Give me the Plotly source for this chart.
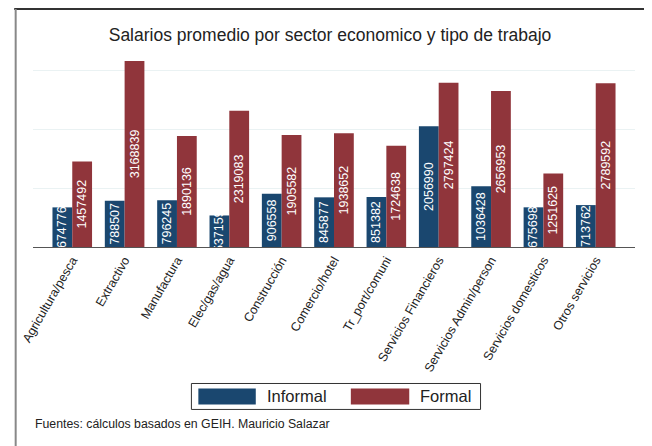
import plotly.graph_objects as go

sectores = ["Agricultura/pesca", "Extractivo", "Manufactura", "Elec/gas/agua",
            "Construcción", "Comercio/hotel", "Tr_port/comuni", "Servicios Financieros",
            "Servicios Admin/person", "Servicios domesticos", "Otros servicios"]
informal = [674776, 788507, 796245, 537159, 906558, 845877, 851382, 2056990,
            1036428, 675698, 713762]
formal = [1457492, 3168839, 1890136, 2319083, 1905582, 1938652, 1724638, 2797424,
          2656953, 1251625, 2789592]

AZUL = "#1a476f"
ROJO = "#90353b"
FONT = "Liberation Sans, Arial, sans-serif"

OFF = 8  # page body margin
W, H = 652 - OFF, 446 - OFF
L, R = 27 - OFF, 635 - OFF
T, B = 55 - OFF, 247.3 - OFF
PW, PH = R - L, B - T

def px(xv):
    return (xv - OFF - L) / PW

def py(yv):
    return (B - (yv - OFF)) / PH

fig = go.Figure()
for name, vals, col in [("Informal", informal, AZUL), ("Formal", formal, ROJO)]:
    fig.add_trace(go.Bar(
        x=sectores, y=vals, name=name, marker_color=col,
        marker_line_width=0,
        text=[str(v) for v in vals], textposition="inside",
        insidetextanchor="middle", textangle=-90,
        textfont=dict(color="white", size=12.5, family=FONT),
        constraintext="none", cliponaxis=True, showlegend=False,
    ))

fig.update_layout(
    width=W, height=H,
    margin=dict(l=L, r=W - R, t=T, b=H - B),
    paper_bgcolor="white", plot_bgcolor="white",
    barmode="group", bargap=0.244, bargroupgap=0,
    uniformtext=dict(minsize=12.5, mode="show"),
    font=dict(family=FONT, color="#222"),
    title=dict(text="Salarios promedio por sector economico y tipo de trabajo",
               x=0.5, xanchor="center", y=1 - (35 - OFF) / H, yanchor="middle",
               font=dict(size=17.5, color="#222", family=FONT)),
    xaxis=dict(range=[-0.75, 10.75], tickangle=-60, ticks="", showline=True,
               linecolor="#555", linewidth=1, tickfont=dict(size=12.5, color="#222")),
    yaxis=dict(range=[0, 3270000], dtick=1000000, showticklabels=False,
               showgrid=True, gridcolor="#eaf2f3", gridwidth=1, zeroline=False,
               showline=False, ticks=""),
)

# outer frame (top and left edge of the graph region)
fig.add_shape(type="line", xref="paper", yref="paper", x0=px(8), x1=px(660),
              y0=py(9), y1=py(9), line=dict(color="#333", width=2))
fig.add_shape(type="line", xref="paper", yref="paper", x0=px(9.5), x1=px(9.5),
              y0=py(460), y1=py(9), line=dict(color="#888", width=2))

# manual legend
fig.add_shape(type="rect", xref="paper", yref="paper", x0=px(187), x1=px(479),
              y0=py(410), y1=py(384), line=dict(color="#333", width=1),
              fillcolor="white")
for (x0, x1, col, tx, label) in [(194, 252, AZUL, 261, "Informal"),
                                  (348, 407, ROJO, 416, "Formal")]:
    fig.add_shape(type="rect", xref="paper", yref="paper", x0=px(x0), x1=px(x1),
                  y0=py(405), y1=py(389), line=dict(width=0), fillcolor=col)
    fig.add_annotation(xref="paper", yref="paper", x=px(tx), y=py(397),
                       text=label, showarrow=False, xanchor="left", yanchor="middle",
                       font=dict(size=16.5, color="#222", family=FONT))

fig.add_annotation(xref="paper", yref="paper", x=px(27), y=py(425),
                   text="Fuentes: cálculos basados en GEIH. Mauricio Salazar",
                   showarrow=False, xanchor="left", yanchor="middle",
                   font=dict(size=12.3, color="#222", family=FONT))

fig.write_html("out.html")
